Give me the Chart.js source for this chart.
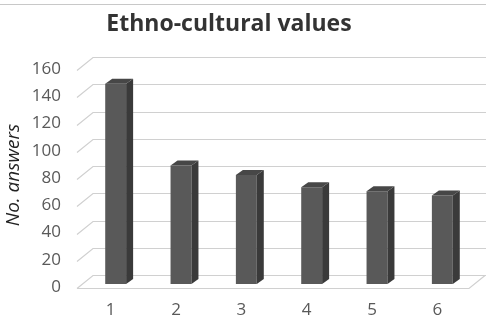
<!DOCTYPE html>
<html><head><meta charset="utf-8">
<script src="https://cdn.jsdelivr.net/npm/chart.js@4/dist/chart.umd.min.js"></script>
<style>html,body{margin:0;padding:0;background:#fff}</style>
</head><body>
<canvas id="c" width="486" height="319"></canvas>
<script>
const categories = ['1', '2', '3', '4', '5', '6'];
const answers = [147, 87, 80, 71, 68, 65];
const yMin = 0, yMax = 160, yStep = 20;
const chartTitle = 'Ethno-cultural values';
const yAxisTitle = 'No. answers';

// 3D depth offsets relative to the bar-front plane (chart area)
const BACK = {dx: 10, dy: -9};
const FRONT = {dx: -6, dy: 4};
const BARDEPTH = {dx: 7, dy: -5};

const wallPlugin = {
  id: 'wall',
  beforeDatasetsDraw(chart) {
    const {ctx, chartArea: a, scales: {y}} = chart;
    ctx.save();
    ctx.strokeStyle = '#d0d0d0';
    ctx.lineWidth = 1.2;
    y.ticks.forEach(t => {
      const py = Math.round(y.getPixelForValue(t.value)) + 0.5;
      ctx.beginPath();
      ctx.moveTo(a.left + FRONT.dx, py + FRONT.dy);
      ctx.lineTo(a.left + BACK.dx, py + BACK.dy);
      ctx.lineTo(chart.width, py + BACK.dy);
      ctx.stroke();
    });
    const p0 = Math.round(y.getPixelForValue(0)) + 0.5;
    ctx.beginPath();
    ctx.moveTo(a.left + FRONT.dx, p0 + FRONT.dy);
    ctx.lineTo(a.right + FRONT.dx, p0 + FRONT.dy);
    ctx.lineTo(a.right + BACK.dx, p0 + BACK.dy);
    ctx.stroke();
    // top border line
    ctx.strokeStyle = '#c8c8c8';
    ctx.beginPath();
    ctx.moveTo(0, 4.5);
    ctx.lineTo(chart.width, 4.5);
    ctx.stroke();
    ctx.restore();
  },
  afterDatasetsDraw(chart) {
    const {ctx} = chart;
    const meta = chart.getDatasetMeta(0);
    ctx.save();
    meta.data.forEach(bar => {
      const {x, y, base, width} = bar.getProps(['x', 'y', 'base', 'width'], true);
      const l = x - width / 2, r = x + width / 2;
      // side face
      ctx.fillStyle = '#3a3a3a';
      ctx.beginPath();
      ctx.moveTo(r, y);
      ctx.lineTo(r + BARDEPTH.dx, y + BARDEPTH.dy);
      ctx.lineTo(r + BARDEPTH.dx, base + BARDEPTH.dy);
      ctx.lineTo(r, base);
      ctx.closePath();
      ctx.fill();
      // top face
      ctx.fillStyle = '#474747';
      ctx.beginPath();
      ctx.moveTo(l, y);
      ctx.lineTo(l + BARDEPTH.dx, y + BARDEPTH.dy);
      ctx.lineTo(r + BARDEPTH.dx, y + BARDEPTH.dy);
      ctx.lineTo(r, y);
      ctx.closePath();
      ctx.fill();
    });
    ctx.restore();
  },
  afterDraw(chart) {
    const {ctx} = chart;
    ctx.save();
    ctx.fillStyle = '#333333';
    ctx.font = 'bold 23px "Open Sans"';
    ctx.textAlign = 'center';
    ctx.textBaseline = 'middle';
    ctx.fillText(chartTitle, 229, 24);
    ctx.restore();
  }
};

new Chart(document.getElementById('c'), {
  type: 'bar',
  data: {
    labels: categories,
    datasets: [{
      data: answers,
      backgroundColor: '#595959',
      borderWidth: 0,
      barPercentage: 0.32,
      categoryPercentage: 1
    }]
  },
  options: {
    responsive: false,
    animation: false,
    layout: {padding: {top: 66, right: 11, left: 0, bottom: 0}},
    plugins: {legend: {display: false}, tooltip: {enabled: false}, title: {display: false}},
    scales: {
      x: {
        grid: {display: false, drawTicks: false},
        border: {display: false},
        ticks: {color: '#595959', font: {family: 'Open Sans', size: 17}, padding: 16, labelOffset: -5},
        afterFit(s) { s.height = 35; }
      },
      y: {
        min: yMin, max: yMax,
        grid: {display: false, drawTicks: false},
        border: {display: false},
        ticks: {stepSize: yStep, color: '#595959', font: {family: 'Open Sans', size: 17}, padding: 22, labelOffset: 3},
        title: {display: true, text: yAxisTitle, color: '#222', font: {family: 'Open Sans', size: 19, style: 'italic'}, padding: {top: 2, bottom: 0}},
        afterFit(s) { s.width = 83; }
      }
    }
  },
  plugins: [wallPlugin]
});
</script>
</body></html>
